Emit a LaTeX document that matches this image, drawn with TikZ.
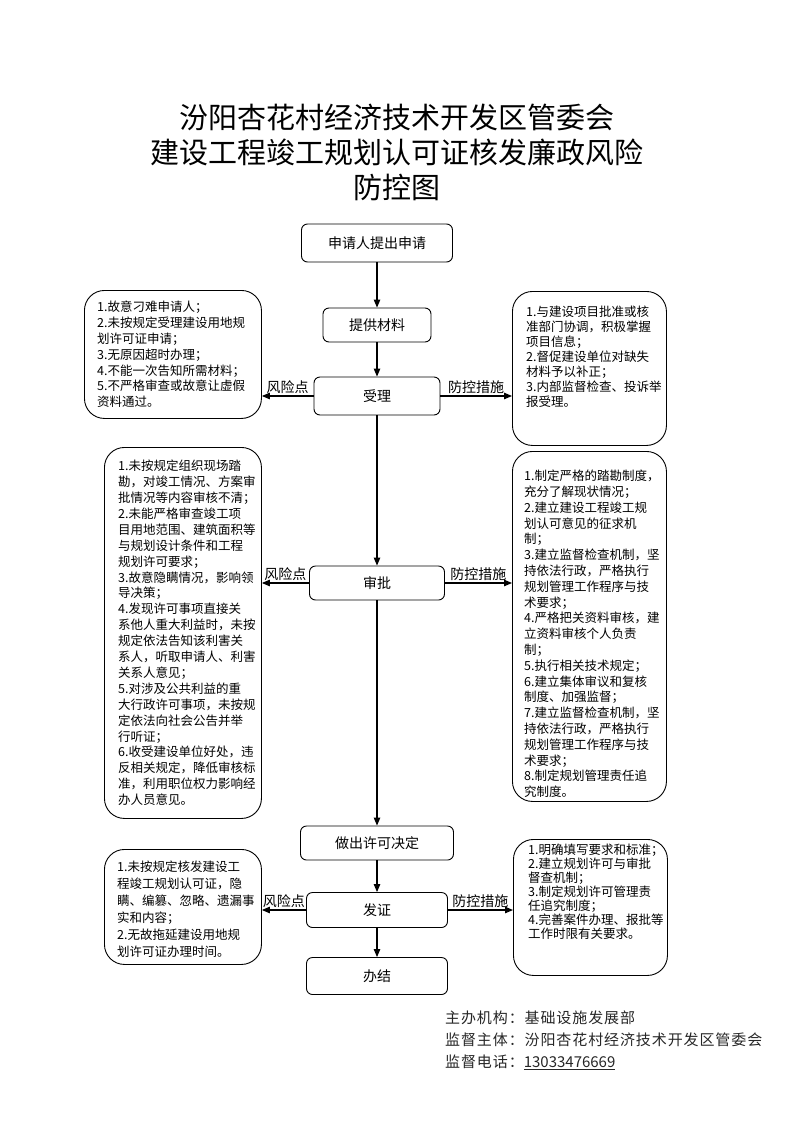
\documentclass[tikz,border=0pt]{standalone}
\usepackage{fontspec}
\setmainfont{Noto Sans CJK SC}
\usetikzlibrary{arrows.meta, positioning, calc}

\tikzset{
  mainbox/.style={draw, rounded corners=6pt, line width=0.9pt, font=\fontsize{14}{16}\selectfont},
  sidebox/.style={draw, rounded corners=20pt, line width=0.9pt, anchor=north west, inner sep=0pt},
  sidetext/.style={anchor=north west, align=left, inner sep=0pt},
  flow/.style={line width=1.1pt, -{Triangle[length=8pt,width=6.5pt]}},
  tag/.style={font=\fontsize{14}{16}\selectfont, inner sep=2pt}
}

\begin{document}
\begin{tikzpicture}[x=1pt, y=-1pt]
  \useasboundingbox (0,0) rectangle (793,1122);

  % title
  \node (title) at (397,152) [align=center, font=\fontsize{29}{35}\selectfont]
    {汾阳杏花村经济技术开发区管委会\\建设工程竣工规划认可证核发廉政风险\\防控图};

  % main flow
  \node[mainbox, minimum width=151pt, minimum height=38pt] (apply)    at (377,243) {申请人提出申请};
  \node[mainbox, minimum width=108pt, minimum height=34pt] (material) at (377,325) {提供材料};
  \node[mainbox, minimum width=126pt, minimum height=38pt] (accept)   at (377,396) {受理};
  \node[mainbox, minimum width=135pt, minimum height=34pt] (review)   at (377,583) {审批};
  \node[mainbox, minimum width=153pt, minimum height=34pt] (decide)   at (377,843) {做出许可决定};
  \node[mainbox, minimum width=141pt, minimum height=35pt] (issue)    at (377,910) {发证};
  \node[mainbox, minimum width=141pt, minimum height=37pt] (finish)   at (377,976) {办结};

  % risk boxes (left)
  \node[sidebox, minimum width=177pt, minimum height=128pt] (riskA) at (84,290) {};
  \node[sidetext, font=\fontsize{12.5}{15.8}\selectfont] (riskAtxt) at (97,301)
    {1.故意刁难申请人；\\2.未按规定受理建设用地规\\划许可证申请；\\3.无原因超时办理；\\4.不能一次告知所需材料；\\5.不严格审查或故意让虚假\\资料通过。};

  \node[sidebox, minimum width=157pt, minimum height=371pt] (riskB) at (104,447) {};
  \node[sidetext, font=\fontsize{12.5}{15.9}\selectfont] (riskBtxt) at (118,460)
    {1.未按规定组织现场踏\\勘，对竣工情况、方案审\\批情况等内容审核不清；\\2.未能严格审查竣工项\\目用地范围、建筑面积等\\与规划设计条件和工程\\规划许可要求；\\3.故意隐瞒情况，影响领\\导决策；\\4.发现许可事项直接关\\系他人重大利益时，未按\\规定依法告知该利害关\\系人，听取申请人、利害\\关系人意见；\\5.对涉及公共利益的重\\大行政许可事项，未按规\\定依法向社会公告并举\\行听证；\\6.收受建设单位好处，违\\反相关规定，降低审核标\\准，利用职位权力影响经\\办人员意见。};

  \node[sidebox, minimum width=157pt, minimum height=115pt] (riskC) at (104,849) {};
  \node[sidetext, font=\fontsize{12.5}{17}\selectfont] (riskCtxt) at (117,861)
    {1.未按规定核发建设工\\程竣工规划认可证，隐\\瞒、编篡、忽略、遗漏事\\实和内容；\\2.无故拖延建设用地规\\划许可证办理时间。};

  % control boxes (right)
  \node[sidebox, minimum width=154pt, minimum height=154pt] (ctrlA) at (512,291) {};
  \node[sidetext, font=\fontsize{12.5}{15}\selectfont] (ctrlAtxt) at (526,306)
    {1.与建设项目批准或核\\准部门协调，积极掌握\\项目信息；\\2.督促建设单位对缺失\\材料予以补正；\\3.内部监督检查、投诉举\\报受理。};

  \node[sidebox, minimum width=154pt, minimum height=350pt] (ctrlB) at (512,451) {};
  \node[sidetext, font=\fontsize{12.5}{15.8}\selectfont] (ctrlBtxt) at (524,470)
    {1.制定严格的踏勘制度，\\充分了解现状情况；\\2.建立建设工程竣工规\\划认可意见的征求机\\制；\\3.建立监督检查机制，坚\\持依法行政，严格执行\\规划管理工作程序与技\\术要求；\\4.严格把关资料审核，建\\立资料审核个人负责\\制；\\5.执行相关技术规定；\\6.建立集体审议和复核\\制度、加强监督；\\7.建立监督检查机制，坚\\持依法行政，严格执行\\规划管理工作程序与技\\术要求；\\8.制定规划管理责任追\\究制度。};

  \node[sidebox, minimum width=154pt, minimum height=136pt] (ctrlC) at (513,839) {};
  \node[sidetext, font=\fontsize{12.5}{14}\selectfont] (ctrlCtxt) at (528,844)
    {1.明确填写要求和标准；\\2.建立规划许可与审批\\督查机制；\\3.制定规划许可管理责\\任追究制度；\\4.完善案件办理、报批等\\工作时限有关要求。};

  % spine
  \draw[flow] (apply) -- (material);
  \draw[flow] (material) -- (accept);
  \draw[flow] (accept) -- (review);
  \draw[flow] (review) -- (decide);
  \draw[flow] (decide) -- (issue);
  \draw[flow] (issue) -- (finish);

  % risk / control branches
  \draw[flow] (accept.west) -- (accept.west -| riskA.east) node[tag, midway, above] {风险点};
  \draw[flow] (accept.east) -- (accept.east -| ctrlA.west) node[tag, midway, above] {防控措施};
  \draw[flow] (review.west) -- (review.west -| riskB.east) node[tag, midway, above] {风险点};
  \draw[flow] (review.east) -- (review.east -| ctrlB.west) node[tag, midway, above] {防控措施};
  \draw[flow] (issue.west) -- (issue.west -| riskC.east) node[tag, midway, above] {风险点};
  \draw[flow] (issue.east) -- (issue.east -| ctrlC.west) node[tag, midway, above] {防控措施};

  % footer
  \node[anchor=north west, align=left, inner sep=0pt, text=black!85,
        font=\fontsize{15}{22}\selectfont\addfontfeature{LetterSpace=6}] (footer) at (445,1011)
    {主办机构：基础设施发展部\\监督主体：汾阳杏花村经济技术开发区管委会\\监督电话：{\addfontfeature{LetterSpace=0}\underline{13033476669}}};
\end{tikzpicture}
\end{document}
